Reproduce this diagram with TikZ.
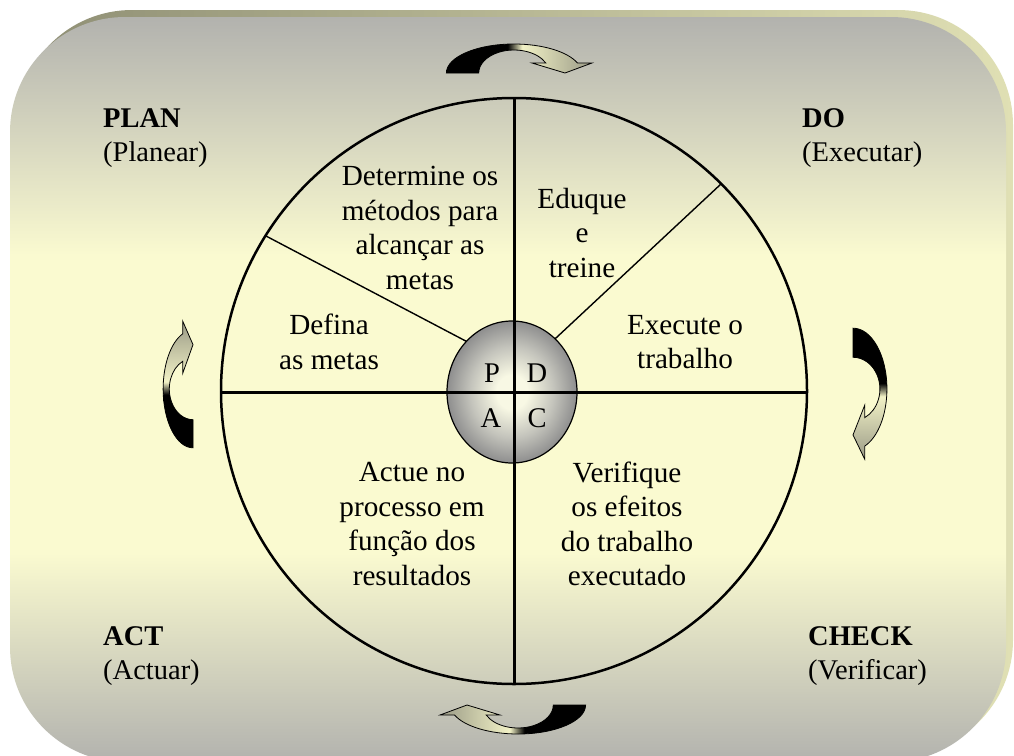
\documentclass[tikz,border=0pt]{standalone}
\usepackage{fontspec}
\setmainfont{Liberation Serif}
\usetikzlibrary{shapes.geometric}

\definecolor{bggray}{HTML}{B2B2AE}
\definecolor{bgyellow}{HTML}{FAFAD0}
\definecolor{shadowdark}{HTML}{8E8E74}
\definecolor{shadowlight}{HTML}{E0E0B4}
\definecolor{arrowcream}{HTML}{F2F2C6}
\definecolor{arrowolive}{HTML}{9A9A86}
\definecolor{hubgray}{HTML}{8E8E8E}
\definecolor{hubmid}{HTML}{C4C4BC}
\definecolor{hublight}{HTML}{F8F8E4}

% panel: grey at top and bottom, pale yellow band in the middle
\pgfdeclareverticalshading{panelshade}{100bp}{color(0bp)=(bggray); color(25bp)=(bggray); color(39bp)=(bgyellow); color(59bp)=(bgyellow); color(75bp)=(bggray); color(100bp)=(bggray)}
% curved arrows: black tail, cream middle, olive head
\pgfdeclarehorizontalshading{arrowshade}{100bp}{color(0bp)=(black); color(46bp)=(black); color(51bp)=(arrowcream); color(75bp)=(arrowolive); color(100bp)=(arrowolive)}
% hub: light centre fading to grey
\pgfdeclareradialshading{hubshade}{\pgfpoint{0bp}{0bp}}{color(0bp)=(hublight); color(6bp)=(hublight); color(16bp)=(hubmid); color(25bp)=(hubgray); color(50bp)=(hubgray)}

\tikzset{
  panel/.style={shading=panelshade, rounded corners=115pt},
  panelshadow/.style={left color=shadowdark, right color=shadowlight, rounded corners=115pt},
  wheelnode/.style={circle, draw=black, line width=2.5pt, minimum size=586pt, inner sep=0pt, outer sep=0pt},
  hubnode/.style={ellipse, draw=black, line width=1.2pt, shading=hubshade, minimum width=130pt, minimum height=142pt, inner sep=0pt, outer sep=0pt},
  crossline/.style={draw=black, line width=3pt},
  spoke/.style={draw=black, line width=1.4pt},
  wheeltext/.style={align=center, inner sep=0pt, font=\fontsize{29.2}{34.5}\selectfont},
  hubletter/.style={inner sep=0pt, font=\fontsize{28.5}{34.5}\selectfont},
  cornerlabel/.style={align=left, inner sep=0pt, anchor=north west, font=\fontsize{28.5}{34}\selectfont},
  turn arrow/.pic={
    \path[draw=black, line width=0.8pt, shading=arrowshade, shading angle=#1]
      (-67.6,0) arc[start angle=180, end angle=339.8, x radius=67.6, y radius=29]
      -- (78,-10) -- (51,0) -- (18,-10) -- (31.8,-10)
      arc[start angle=334.2, end angle=180, x radius=35.3, y radius=23]
      -- cycle;
  }
}

\begin{document}
\begin{tikzpicture}[x=1pt, y=-1pt]
\useasboundingbox (0,0) rectangle (1014,755);
\fill[white] (0,0) rectangle (1014,755);

% panel with its offset shadow
\path[panelshadow] (17,10) rectangle (1013,755);
\path[panel] (10,17) rectangle (1006,762);

% the wheel, its spokes and hub
\node[wheelnode] (wheel) at (514,391) {};
\node[hubnode] (hub) at (512,392) {};
\draw[spoke] (hub.132.2) -- (wheel.148.6);
\draw[spoke] (hub.51.3) -- (wheel.45.8);
\draw[crossline] (wheel.north) -- (wheel.south);
\draw[crossline] (wheel.west |- hub.center) -- (wheel.east |- hub.center);

% hub letters
\node[hubletter, anchor=base] (letterP) at (492,382) {P};
\node[hubletter, anchor=base] (letterD) at (537,382) {D};
\node[hubletter, anchor=base] (letterA) at (491,427) {A};
\node[hubletter, anchor=base] (letterC) at (537,427) {C};

% sector texts
\node[wheeltext] (methods) at (420,228) {Determine os\\métodos para\\alcançar as\\metas};
\node[wheeltext] (educate) at (582,233) {Eduque\\e\\treine};
\node[wheeltext] (goals) at (329,342) {Defina\\as metas};
\node[wheeltext] (execute) at (685,342) {Execute o\\trabalho};
\node[wheeltext] (act) at (412,524) {Actue no\\processo em\\função dos\\resultados};
\node[wheeltext] (verify) at (627,524) {Verifique\\os efeitos\\do trabalho\\executado};

% corner labels
\node[cornerlabel] (plan) at (103,108) {\textbf{PLAN}\\(Planear)};
\node[cornerlabel] (do) at (802,108) {\textbf{DO}\\(Executar)};
\node[cornerlabel] (actlabel) at (103,626) {\textbf{ACT}\\(Actuar)};
\node[cornerlabel] (check) at (808,626) {\textbf{CHECK}\\(Verificar)};

% curved arrows around the wheel
\pic at (514,73) {turn arrow=0};
\pic[rotate=-90, xscale=0.9, yscale=1.17] at (853,389) {turn arrow=-90};
\pic[rotate=180] at (518,705) {turn arrow=180};
\pic[rotate=90, xscale=0.87, yscale=1.03] at (193,389) {turn arrow=90};
\end{tikzpicture}
\end{document}
